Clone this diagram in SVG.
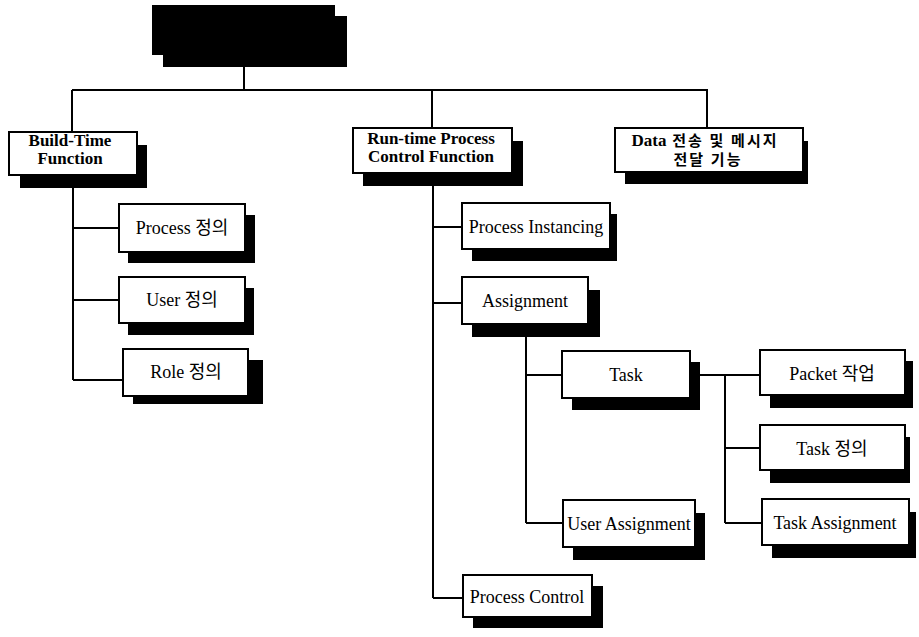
<svg xmlns="http://www.w3.org/2000/svg" width="919" height="637" viewBox="0 0 919 637">
<style>
.f{fill:#fff;stroke:#000;stroke-width:2}
.s{fill:#000}
.t{font-family:"Liberation Serif","Times New Roman","Noto Sans CJK KR",serif;font-size:18px;fill:#000;text-anchor:middle}
.b{font-weight:bold;font-size:17px}
.k{font-family:"Liberation Serif","Noto Sans CJK KR",serif;font-weight:bold;font-size:15px;text-anchor:middle}
.ks{letter-spacing:2px}
#connectors path{fill:none;stroke:#000;stroke-width:2}
</style>
<rect width="919" height="637" fill="#fff"/>
<g id="connectors">
<path d="M244,66V90M72,90H708M72,90V132M432,90V128M707,90V128"/>
<path d="M73,188V380M73,228H119M73,300H119M73,380H123"/>
<path d="M433,186V598M433,227H462M433,303H462M433,598H463"/>
<path d="M526,337V523M526,375H562M526,523H563"/>
<path d="M690,375H760M725,375V523M725,448H760M725,523H762"/>
</g>
<g id="root">
<rect class="s" x="163" y="16" width="184" height="51"/>
<rect class="s" x="152" y="5" width="183" height="50"/>
</g>
<g id="build">
<rect class="s" x="20" y="145" width="127" height="43"/>
<rect class="f" x="9" y="132" width="128" height="43"/>
<text class="t b" x="70" y="146" font-size="16">Build-Time</text>
<text class="t b" x="70" y="164" font-size="16">Function</text>
</g>
<g id="runtime">
<rect class="s" x="363" y="141" width="160" height="45"/>
<rect class="f" x="353" y="128" width="159" height="45"/>
<text class="t b" x="431" y="144">Run-time Process</text>
<text class="t b" x="431" y="162">Control Function</text>
</g>
<g id="data">
<rect class="s" x="625" y="141" width="183" height="43"/>
<rect class="f" x="615" y="128" width="188" height="44"/>
<text class="k" x="705" y="146"><tspan font-size="17">Data</tspan><tspan class="ks"> 전송 및 메시지</tspan></text>
<text class="k ks" x="708" y="165">전달 기능</text>
</g>
<g id="process-def">
<rect class="s" x="128" y="215" width="127" height="48"/>
<rect class="f" x="119" y="204" width="126" height="48"/>
<text class="t" x="182" y="234">Process 정의</text>
</g>
<g id="user-def">
<rect class="s" x="128" y="288" width="126" height="47"/>
<rect class="f" x="119" y="277" width="126" height="46"/>
<text class="t" x="182" y="306">User 정의</text>
</g>
<g id="role-def">
<rect class="s" x="133" y="360" width="130" height="44"/>
<rect class="f" x="123" y="349" width="125" height="47"/>
<text class="t" x="186" y="378">Role 정의</text>
</g>
<g id="process-instancing">
<rect class="s" x="472" y="214" width="145" height="47"/>
<rect class="f" x="462" y="203" width="148" height="46"/>
<text class="t" x="536" y="233">Process Instancing</text>
</g>
<g id="assignment">
<rect class="s" x="472" y="290" width="128" height="47"/>
<rect class="f" x="462" y="277" width="126" height="47"/>
<text class="t" x="525" y="307">Assignment</text>
</g>
<g id="task">
<rect class="s" x="572" y="362" width="128" height="48"/>
<rect class="f" x="562" y="351" width="128" height="47"/>
<text class="t" x="626" y="381">Task</text>
</g>
<g id="packet">
<rect class="s" x="770" y="361" width="143" height="47"/>
<rect class="f" x="760" y="350" width="145" height="45"/>
<text class="t" x="832" y="380">Packet 작업</text>
</g>
<g id="task-def">
<rect class="s" x="770" y="437" width="140" height="46"/>
<rect class="f" x="760" y="425" width="145" height="45"/>
<text class="t" x="832" y="455">Task 정의</text>
</g>
<g id="task-assignment">
<rect class="s" x="772" y="512" width="144" height="46"/>
<rect class="f" x="762" y="499" width="147" height="46"/>
<text class="t" x="835" y="529">Task Assignment</text>
</g>
<g id="user-assignment">
<rect class="s" x="573" y="513" width="132" height="47"/>
<rect class="f" x="563" y="500" width="132" height="47"/>
<text class="t" x="629" y="530">User Assignment</text>
</g>
<g id="process-control">
<rect class="s" x="473" y="586" width="130" height="42"/>
<rect class="f" x="463" y="575" width="129" height="42"/>
<text class="t" x="527" y="603">Process Control</text>
</g>
</svg>
